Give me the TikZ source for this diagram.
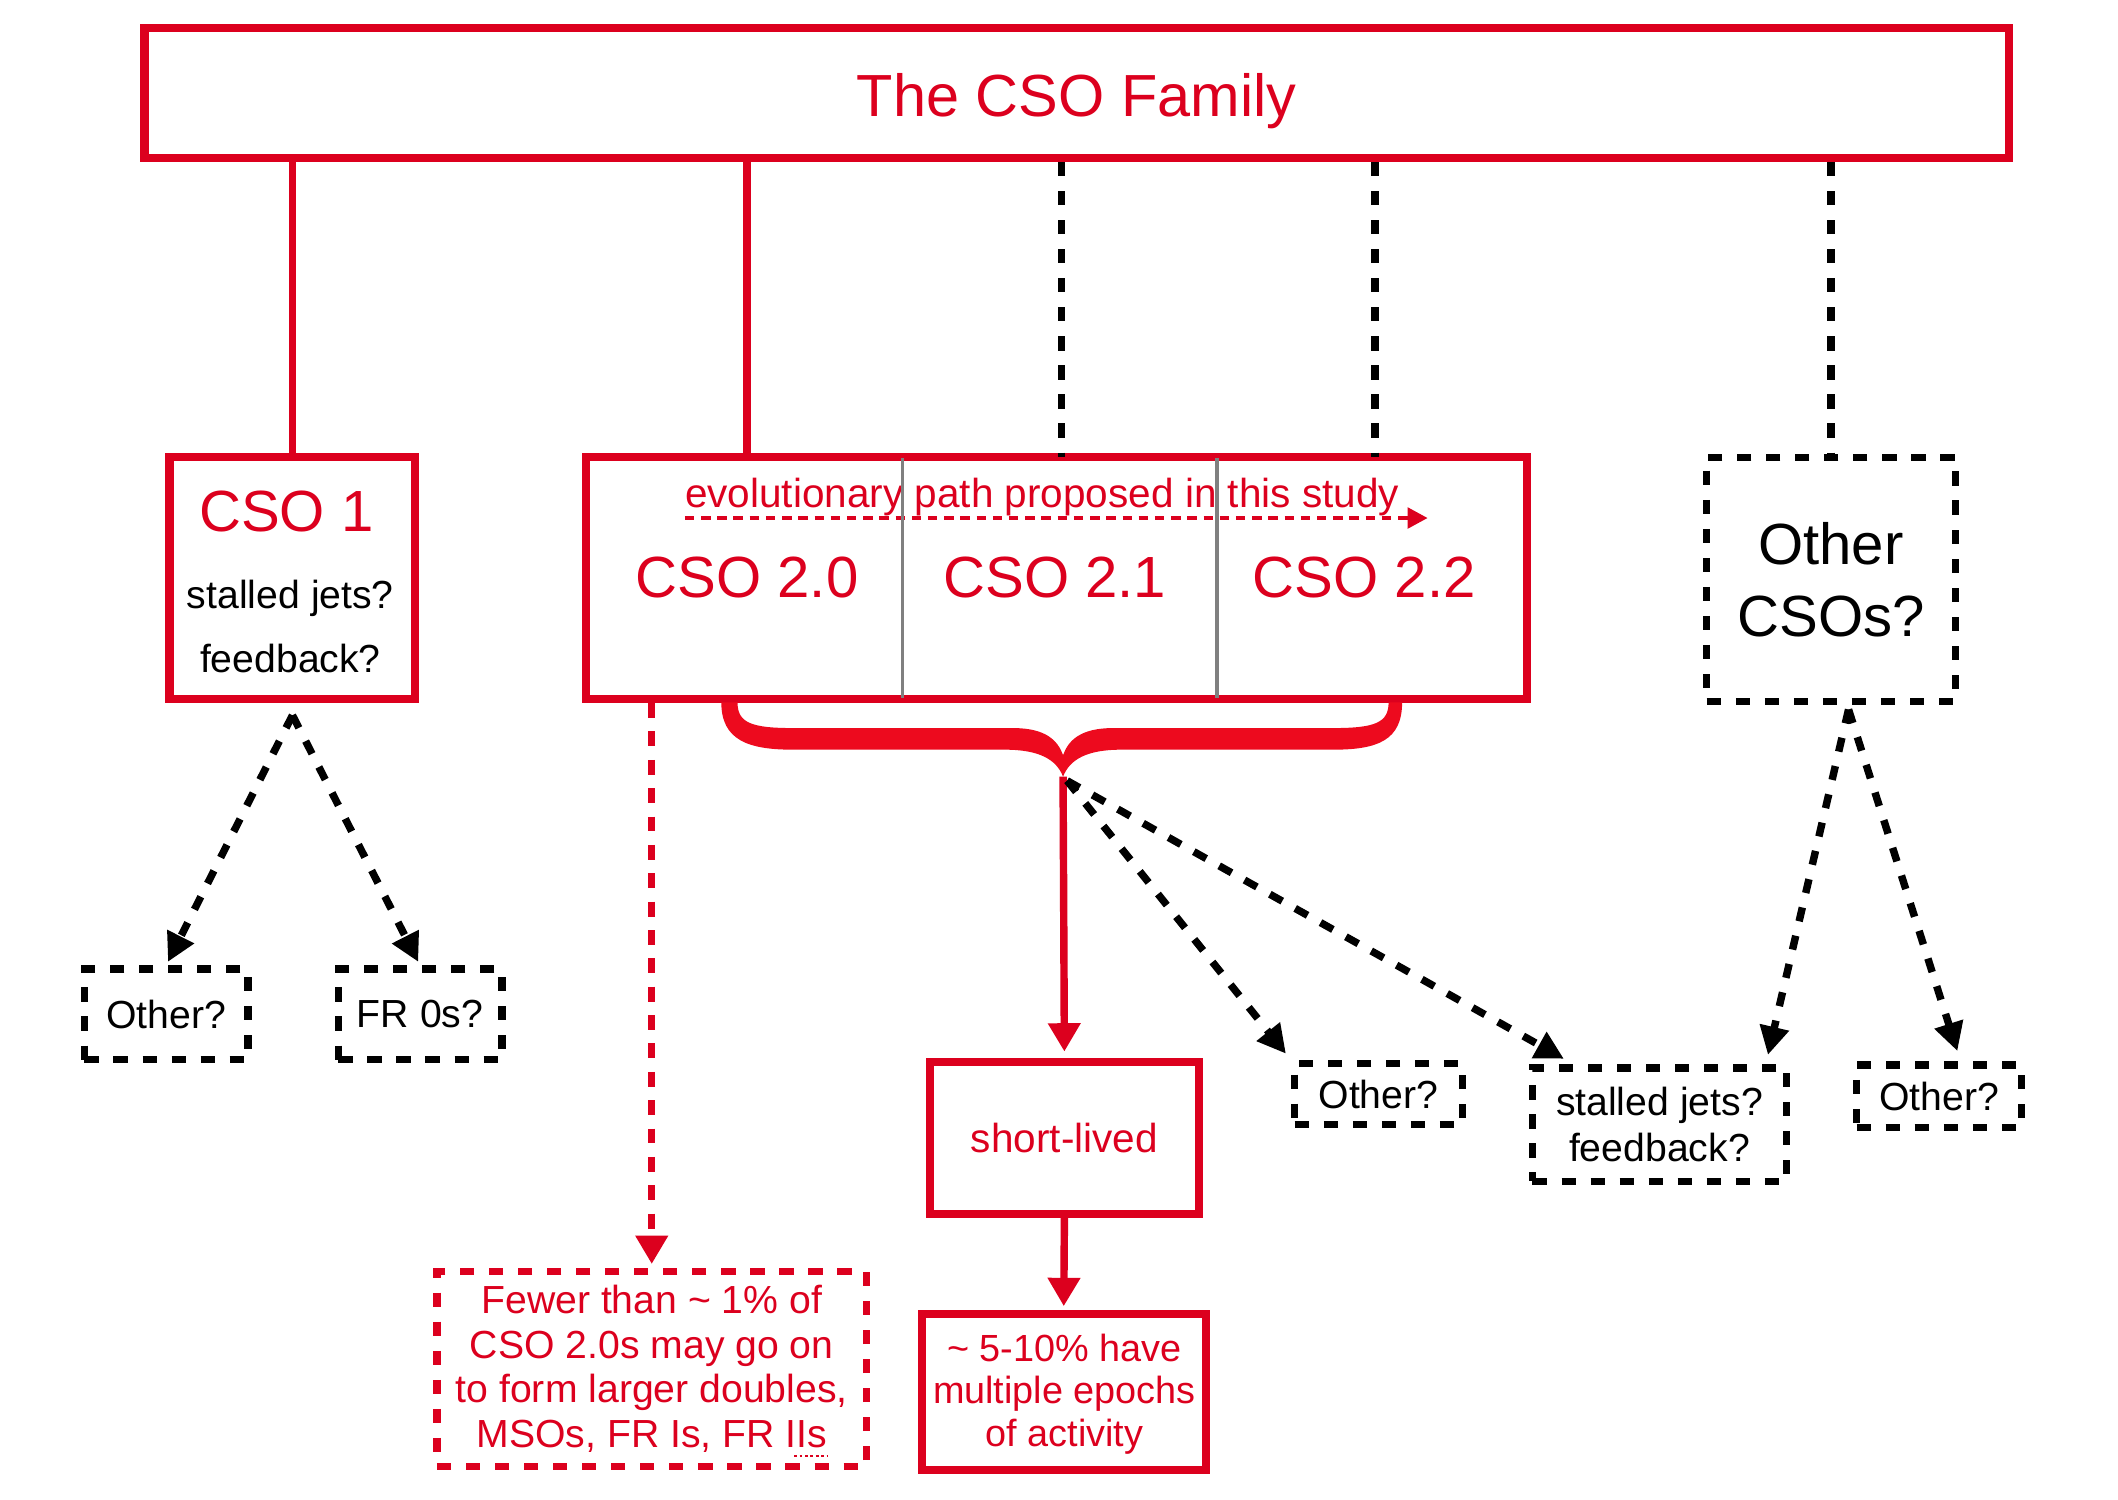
\documentclass[tikz,border=0pt]{standalone}
\usepackage{fontspec}
\setmainfont{Liberation Sans}
\usetikzlibrary{arrows.meta,calc}
\definecolor{cred}{RGB}{220,0,30}
\definecolor{bred}{RGB}{237,10,30}
\definecolor{divgray}{RGB}{128,128,128}
\begin{document}
\begin{tikzpicture}[x=1pt,y=-1pt,
  redbox/.style={draw=cred,line width=6pt,inner sep=0pt,fill=white},
  dashbox/.style={draw=black,line width=5.5pt,inner sep=0pt,dash pattern=on 10.5pt off 11pt,fill=white},
  reddashbox/.style={draw=cred,line width=5.5pt,inner sep=0pt,dash pattern=on 10.5pt off 11pt,fill=white},
  bigtext/.style={font=\fontsize{43}{53}\selectfont},
  smalltext/.style={font=\fontsize{29}{34}\selectfont},
  redline/.style={draw=cred,line width=5.5pt},
  blkdash/.style={draw=black,line width=5.5pt,dash pattern=on 10.5pt off 11pt},
  reddash/.style={draw=cred,line width=5.5pt,dash pattern=on 11pt off 10pt},
  blkhead/.style={-{Triangle[length=21pt,width=21pt]}},
  redhead/.style={-{Triangle[length=21pt,width=23pt]}},
]
\fill[white] (0,0) rectangle (1568,1110);
\useasboundingbox (0,0) rectangle (1568,1110);

% ---------- boxes ----------
\node[redbox,minimum width=1380pt,minimum height=96pt] (top) at (797,69) {};
\node[anchor=base,text=cred,font=\fontsize{44}{52}\selectfont] (toptitle) at (797,86) {The CSO Family};

\node[redbox,minimum width=182pt,minimum height=179pt] (cso1) at (216.5,428) {};
\node[anchor=base,text=cred,bigtext] (cso1name) at (212,393.5) {CSO 1};
\node[anchor=base,smalltext] (cso1q1) at (215,450.5) {stalled jets?};
\node[anchor=base,smalltext] (cso1q2) at (215,497.5) {feedback?};

\node[redbox,minimum width=697pt,minimum height=179pt] (cso2) at (782,428) {};
\node[anchor=base,text=cred,font=\fontsize{30}{36}\selectfont] (evo) at (771.5,376) {evolutionary path proposed in this study};
\coordinate (evostart) at (507,383.5);
\coordinate (evoend) at (1057,383.5);
\draw[cred,line width=3.5pt,dash pattern=on 7pt off 5pt,-{Triangle[length=15pt,width=15pt]}] (evostart) -- (evoend);
\node[anchor=base,text=cred,bigtext] (t20) at (553,442.5) {CSO 2.0};
\node[anchor=base,text=cred,bigtext] (t21) at (781,442.5) {CSO 2.1};
\node[anchor=base,text=cred,bigtext] (t22) at (1010,442.5) {CSO 2.2};
\coordinate (d1t) at (668,339); \coordinate (d1b) at (668,517);
\coordinate (d2t) at (901,339); \coordinate (d2b) at (901,517);
\draw[divgray,line width=2.5pt] (d1t) -- (d1b);
\draw[divgray,line width=2.5pt] (d2t) -- (d2b);

\node[dashbox,minimum width=184pt,minimum height=181pt,bigtext,align=center] (ocso) at (1355.5,429) {Other\\CSOs?};

\node[dashbox,minimum width=121pt,minimum height=67pt,smalltext] (oleft) at (123,751) {Other?};
\node[dashbox,minimum width=121pt,minimum height=67pt,smalltext] (fr0) at (311,751) {FR 0s?};
\node[dashbox,minimum width=124pt,minimum height=45pt,smalltext] (omid) at (1020.5,810) {Other?};
\node[dashbox,minimum width=188pt,minimum height=84pt,smalltext,align=center] (stalled) at (1228.5,832.5) {stalled jets?\\feedback?};
\node[dashbox,minimum width=122pt,minimum height=46pt,smalltext] (oright) at (1435.5,811.5) {Other?};

\node[redbox,minimum width=199pt,minimum height=112pt,text=cred,font=\fontsize{30}{36}\selectfont] (short) at (788,842.5) {short-lived};
\node[redbox,minimum width=210pt,minimum height=115pt] (act) at (787.5,1030.5) {};
\node[text=cred,font=\fontsize{28}{31.5}\selectfont,align=center,inner sep=0pt] (acttext) at (788,1032) {\textasciitilde{} 5-10\% have\\multiple epochs\\of activity};
\node[reddashbox,minimum width=318pt,minimum height=144pt,text=cred,font=\fontsize{29}{33}\selectfont,align=center] (fewer) at (482.5,1013.5) {Fewer than \textasciitilde{} 1\% of\\CSO 2.0s may go on\\to form larger doubles,\\MSOs, FR Is, FR IIs};
\coordinate (sq1) at (588,1078); \coordinate (sq2) at (613,1078);
\draw[cred,line width=2pt,dash pattern=on 2pt off 2pt] (sq1) -- (sq2);

% ---------- brace ----------
\fill[bred] (546,520) .. controls (546,535) and (556,539) .. (587,539) -- (750,539)
  .. controls (774,539) and (783,548) .. (787,559)
  .. controls (791,548) and (800,539) .. (824,539) -- (987,539)
  .. controls (1018,539) and (1028,535) .. (1028,520) -- (1038,520)
  .. controls (1038,548) and (1020,555) .. (987,555) -- (830,555)
  .. controls (805,555) and (792,562) .. (787,575)
  .. controls (782,562) and (769,555) .. (744,555) -- (587,555)
  .. controls (554,555) and (534,548) .. (534,520) -- cycle;
\coordinate (btip) at (787,575);

% ---------- connectors ----------
\coordinate (col0) at (553,338);
\coordinate (col1) at (786,338);
\coordinate (col2) at (1018,338);
\draw[redline] (top.south -| cso1.north) -- (cso1.north);
\draw[redline] (top.south -| col0) -- (col0);
\draw[blkdash] (top.south -| col1) -- (col1);
\draw[blkdash] (top.south -| col2) -- (col2);
\draw[blkdash] (top.south -| ocso.north) -- (ocso.north);

\coordinate (cso1out) at ([yshift=-9pt]cso1.south);
\draw[blkdash,blkhead,shorten >=3pt] (cso1out) -- (oleft.north);
\draw[blkdash,blkhead,shorten >=3pt] (cso1out) -- (fr0.north);

\draw[reddash,redhead,shorten >=3pt] (cso2.south -| fewer.north) -- (fewer.north);

\draw[redline,redhead,shorten >=5pt] (btip) -- (short.north);
\draw[redline,redhead,shorten >=3pt] (short.south) -- (act.north);
\coordinate (bout) at (790,578);
\draw[blkdash,blkhead,shorten >=6pt] (bout) -- (omid.north west);
\draw[blkdash,blkhead,shorten >=8pt] (bout) -- ([xshift=33pt]stalled.north west);

\coordinate (ocsoout) at ([xshift=13pt,yshift=-3pt]ocso.south);
\draw[blkdash,blkhead,shorten >=7pt] (ocsoout) -- ([xshift=-18pt]stalled.north east);
\draw[blkdash,blkhead,shorten >=8pt] (ocsoout) -- ([xshift=16pt]oright.north);
\end{tikzpicture}
\end{document}
